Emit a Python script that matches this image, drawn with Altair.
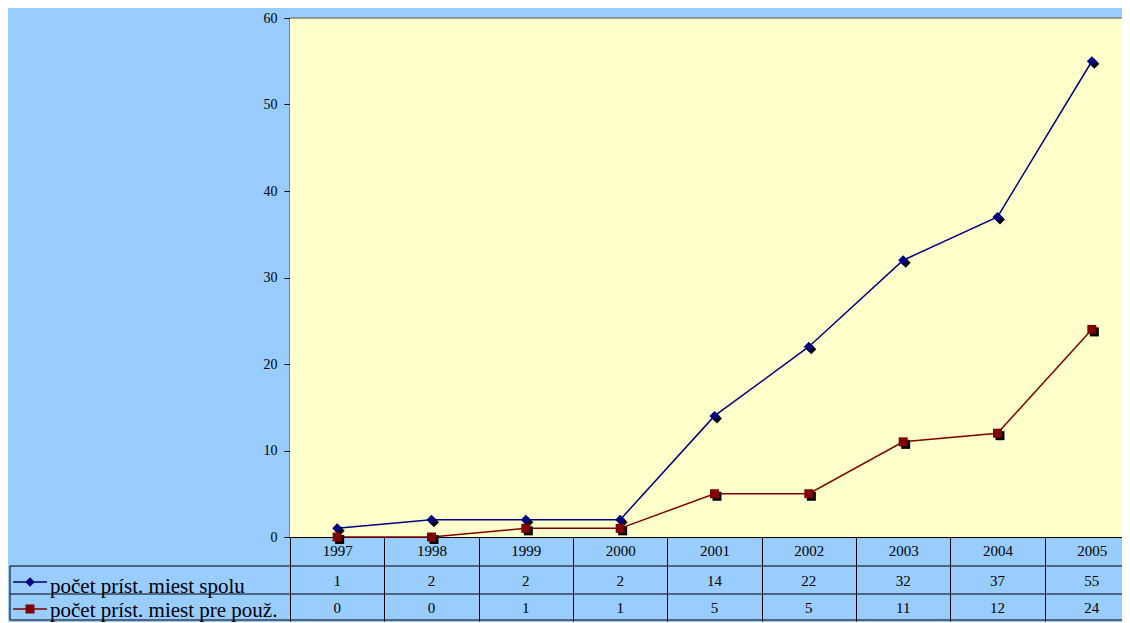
import altair as alt
import pandas as pd

years = [1997, 1998, 1999, 2000, 2001, 2002, 2003, 2004, 2005]
series_total_name = "počet príst. miest spolu"
series_users_name = "počet príst. miest pre použ."
total = [1, 2, 2, 2, 14, 22, 32, 37, 55]
users = [0, 0, 1, 1, 5, 5, 11, 12, 24]
y_ticks = [0, 10, 20, 30, 40, 50, 60]

BLUE = "#000080"
RED = "#800000"
FONT = "Liberation Serif"
XR = 849  # band range end (the last column is cut by the page edge)

df_total = pd.DataFrame({"year": years, "value": total})
df_users = pd.DataFrame({"year": years, "value": users})
one = pd.DataFrame({"k": [0]})
legend_df = pd.DataFrame({"label": [series_total_name]})
legend_df2 = pd.DataFrame({"label": [series_users_name]})

x_enc = alt.X(
    "year:O",
    scale=alt.Scale(type="band", paddingInner=0, paddingOuter=0, range=[0, XR]),
    axis=alt.Axis(
        title=None, labelAngle=0, tickBand="extent", tickSize=84,
        tickColor="black", domainColor="black", labelPadding=-78,
        labelFontSize=15, labelColor="black", labelFont=FONT,
        labelFontWeight="normal",
    ),
)
y_enc = alt.Y(
    "value:Q",
    scale=alt.Scale(domain=[0, 60]),
    axis=alt.Axis(
        values=y_ticks, title=None, grid=False, tickSize=6, labelPadding=7,
        labelFontSize=14, labelFont=FONT, labelColor="black",
        domainColor="#404040", domainWidth=2, tickColor="black",
    ),
)

layers = []
# plot area fill and top border
layers.append(alt.Chart(one).mark_rect(color="#FFFFCC")
              .encode(x=alt.value(0), x2=alt.value(XR), y=alt.value(0), y2=alt.value(519)))
layers.append(alt.Chart(one).mark_rule(color="#808080", strokeWidth=1.5)
              .encode(x=alt.value(0), x2=alt.value(XR), y=alt.value(0)))


def series_layers(df, color, shape, size):
    base = alt.Chart(df)
    line = base.mark_line(color=color, strokeWidth=1.5).encode(x=x_enc, y=y_enc)
    shadow = base.mark_point(shape=shape, filled=True, size=size, color="black",
                             opacity=1, xOffset=2.5, yOffset=2.5).encode(x=x_enc, y=y_enc)
    pts = base.mark_point(shape=shape, filled=True, size=size, color=color,
                          opacity=1).encode(x=x_enc, y=y_enc)
    return [line, shadow, pts]


layers += series_layers(df_total, BLUE, "diamond", 100)
layers += series_layers(df_users, RED, "square", 81)

# table values
layers.append(alt.Chart(df_total).mark_text(font=FONT, fontSize=15, color="black", baseline="middle")
              .encode(x=x_enc, y=alt.value(563), text="value:Q"))
layers.append(alt.Chart(df_users).mark_text(font=FONT, fontSize=15, color="black", baseline="middle")
              .encode(x=x_enc, y=alt.value(590), text="value:Q"))

# table horizontal lines
for yy in [548, 576, 602]:
    layers.append(alt.Chart(one).mark_rule(color="black", strokeWidth=1)
                  .encode(x=alt.value(-280), x2=alt.value(XR), y=alt.value(yy)))
layers.append(alt.Chart(one).mark_rule(color="black", strokeWidth=1)
              .encode(x=alt.value(-280), y=alt.value(548), y2=alt.value(602)))

# legend keys
for yy, color, shape, size, ldf, base_y in [
    (564, BLUE, "diamond", 90, legend_df, 575),
    (591, RED, "square", 81, legend_df2, 599),
]:
    layers.append(alt.Chart(one).mark_rule(color=color, strokeWidth=1.5)
                  .encode(x=alt.value(-277), x2=alt.value(-243), y=alt.value(yy)))
    layers.append(alt.Chart(one).mark_point(shape=shape, filled=True, size=size, color=color, opacity=1)
                  .encode(x=alt.value(-260), y=alt.value(yy)))
    layers.append(alt.Chart(ldf).mark_text(font=FONT, fontSize=21, color="black", align="left",
                                           baseline="alphabetic")
                  .encode(x=alt.value(-240), y=alt.value(base_y), text="label:N"))

chart = alt.layer(*layers).properties(
    width=832, height=519,
    background="#99CCFF",
    padding={"left": 282, "top": 10, "right": 0, "bottom": 85},
    autosize=alt.AutoSizeParams(type="none"),
).configure_view(stroke=None).configure(font=FONT)

chart.save("out.html", embed_options={"renderer": "svg", "actions": False})
